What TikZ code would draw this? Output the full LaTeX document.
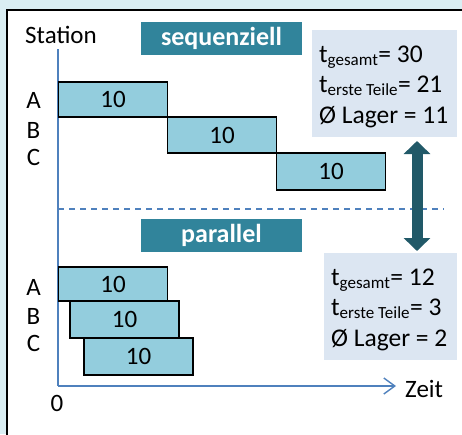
\documentclass[tikz,border=0pt]{standalone}
\usepackage{fontspec}
\setmainfont{Carlito}
\usetikzlibrary{arrows.meta}
\definecolor{bgblue}{HTML}{DAEEF3}
\definecolor{tealhead}{HTML}{31849B}
\definecolor{barfill}{HTML}{93CDDD}
\definecolor{statfill}{HTML}{DCE6F2}
\definecolor{axisblue}{HTML}{4F81BD}
\definecolor{darkteal}{HTML}{215968}
\tikzset{
  bigfont/.style={font=\fontsize{25}{30}\selectfont},
  bar/.style={draw=black, line width=1.3pt, fill=barfill, minimum width=109pt, minimum height=36pt, inner sep=0pt, bigfont},
  headbox/.style={fill=tealhead, text=white, minimum width=161pt, minimum height=33pt, inner sep=0pt, font=\fontsize{26}{30}\selectfont\bfseries},
  statline/.style={inner sep=0pt, anchor=base west, font=\fontsize{25.5}{30}\selectfont},
  lbl/.style={inner sep=0pt, bigfont},
  axis/.style={draw=axisblue, line width=1.4pt},
  bigarrow/.style={draw=darkteal, line width=11pt, {Triangle[width=26pt,length=13pt]}-{Triangle[width=26pt,length=13pt]}}
}
\newcommand{\sbx}[1]{\textsubscript{\fontsize{17}{17}\selectfont #1}}
\begin{document}
\begin{tikzpicture}[x=1pt,y=-1pt]
\clip (0,0) rectangle (462,434);
\fill[bgblue] (0,0) rectangle (462,434);
\draw[fill=white, line width=1.3pt] (7,10) rectangle (470,444);

% axes
\coordinate (ytop) at (58,49);
\coordinate (orig) at (58,386);
\coordinate (xend) at (396,386);
\draw[axis] (ytop) -- (orig);
\draw[axis, -{Straight Barb[length=11pt,width=16pt,line width=1.4pt]}] (orig) -- (xend);
\node[lbl, anchor=west] (zeit) at (405,389) {Zeit};
\node[lbl] (station) at (61,35) {Station};
\node[lbl] (zero) at (57,403) {0};

% dashed separator
\coordinate (d1) at (58,209);
\coordinate (d2) at (444,209);
\draw[axisblue, line width=1.2pt, dash pattern=on 6pt off 5pt] (d1) -- (d2);

% headings
\node[headbox] (seq) at (221.5,38.5) {sequenziell};
\node[headbox] (par) at (221.5,235) {parallel};

% station labels
\node[lbl] (sA) at (33.5,100) {A};
\node[lbl] (sB) at (33.5,130) {B};
\node[lbl] (sC) at (33.5,157) {C};
\node[lbl] (pA) at (33.5,287) {A};
\node[lbl] (pB) at (33.5,316) {B};
\node[lbl] (pC) at (33.5,343) {C};

% sequential bars
\node[bar, minimum height=35pt] (qA) at (113,99.5) {10};
\node[bar] (qB) at (222,135) {10};
\node[bar, minimum height=37pt] (qC) at (331,171.5) {10};

% parallel bars
\node[bar, minimum height=34pt] (rA) at (113,284) {10};
\node[bar, minimum height=37pt] (rB) at (124.5,319.5) {10};
\node[bar, minimum height=37pt] (rC) at (138.5,356.5) {10};

% stats boxes
\fill[statfill] (312,30) rectangle (457,137);
\node[statline] (s1a) at (319,62) {t\sbx{gesamt}= 30};
\node[statline] (s1b) at (319,92) {t\sbx{erste Teile}= 21};
\node[statline] (s1c) at (319,123) {Ø Lager = 11};
\fill[statfill] (324,253) rectangle (457,360);
\node[statline] (s2a) at (331,285) {t\sbx{gesamt}= 12};
\node[statline] (s2b) at (331,315) {t\sbx{erste Teile}= 3};
\node[statline] (s2c) at (331,346) {Ø Lager = 2};

% double arrow
\coordinate (a1) at (417,141);
\coordinate (a2) at (417,251);
\draw[bigarrow] (a1) -- (a2);
\end{tikzpicture}
\end{document}
